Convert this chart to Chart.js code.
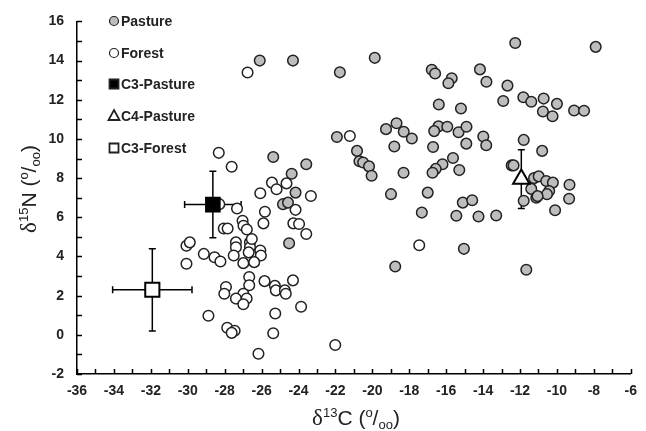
<!DOCTYPE html>
<html>
<head>
<meta charset="utf-8">
<script src="https://cdn.jsdelivr.net/npm/chart.js@4.4.1/dist/chart.umd.min.js"></script>
<style>
  html, body { margin: 0; padding: 0; background: #fff; }
  #wrap { width: 646px; height: 431px; }
</style>
</head>
<body>
<div id="wrap"><canvas id="isoChart" width="646" height="431"></canvas></div>
<script>
// values
const pastureX = [-26.1,-24.3,-21.76,-19.87,-12.26,-7.9,-16.78,-16.6,-15.7,-15.88,
  -14.17,-13.82,-12.68,-12.91,-11.82,-11.39,-10.72,-10.0,-10.76,-10.24,
  -9.07,-8.53,-16.4,-15.2,-19.26,-18.69,-18.3,-17.86,-18.81,-21.92,
  -20.83,-20.7,-20.5,-20.18,-20.04,-23.58,-16.71,-16.42,-16.65,-15.94,
  -15.33,-14.9,-14.91,-13.99,-13.83,-15.63,-16.2,-16.57,-16.74,-15.29,
  -18.31,-11.8,-10.8,-12.45,-12.35,-18.99,-17.0,-9.32,-11.24,-10.99,
  -10.58,-10.22,-11.39,-10.42,-10.54,-11.12,-11.05,-11.8,-9.34,-10.1,
  -13.29,-11.66,-17.32,-15.1,-14.59,-15.45,-14.25,-15.04,-18.76,-25.37,
  -24.37,-24.16,-24.84,-24.57,-24.51];
const pastureY = [14.0,14.0,13.4,14.14,14.9,14.7,13.53,13.34,13.1,12.84,
  13.55,12.92,12.72,11.94,12.13,11.9,12.06,11.79,11.4,11.16,
  11.45,11.44,11.76,11.55,10.5,10.8,10.37,10.02,9.61,10.1,
  9.39,8.86,8.8,8.6,8.12,8.71,9.59,10.64,10.4,10.62,
  10.34,10.62,9.76,10.12,9.68,9.03,8.71,8.47,8.27,8.41,
  8.27,9.95,9.39,8.65,8.65,7.18,7.26,7.66,8.0,8.09,
  7.85,7.77,7.45,7.34,7.18,7.0,7.08,6.84,6.95,6.36,
  6.09,3.32,6.24,6.75,6.87,6.08,6.04,4.39,3.49,9.08,
  8.22,7.26,6.67,6.75,4.67];

const forestX = [-26.76,-28.32,-27.62,-25.44,-25.19,-24.65,-26.07,-23.33,-24.16,-25.82,
  -25.9,-24.28,-23.97,-23.58,-27.33,-28.29,-27.03,-26.98,-26.8,-28.05,
  -27.84,-30.07,-29.89,-29.13,-28.55,-28.23,-30.07,-27.39,-27.39,-27.51,
  -26.99,-26.63,-26.63,-26.7,-26.53,-26.07,-26.04,-26.4,-26.67,-26.67,
  -27.93,-28.02,-26.99,-27.39,-26.81,-26.99,-25.84,-25.28,-25.23,-24.74,
  -24.69,-24.3,-23.86,-25.26,-28.88,-27.86,-27.46,-27.62,-25.37,-26.17,
  -21.22,-17.46,-22.01];
const forestY = [13.39,9.29,8.58,7.77,7.43,7.73,7.23,7.09,6.38,6.28,
  5.69,5.69,5.66,5.15,6.45,6.67,5.82,5.57,5.38,5.43,
  5.43,4.55,4.72,4.13,3.96,3.74,3.63,4.72,4.47,4.05,
  3.66,4.72,4.47,4.21,4.89,4.3,4.05,3.71,2.95,2.53,
  2.44,2.1,2.1,1.85,1.85,1.56,2.74,2.5,2.27,2.27,
  2.1,2.78,1.43,1.09,0.97,0.36,0.21,0.1,0.08,-0.97,
  10.15,4.57,-0.52];

// group means with standard deviations
const meanLabels = ["C3-Pasture", "C4-Pasture", "C3-Forest"];
const meanX = [-28.64, -11.93, -31.92];
const meanY = [6.65, 7.95, 2.3];
const sdX = [1.53, 0, 2.15];
const sdY = [1.7, 1.5, 2.1];

const xTicks = [-36, -6, 2];
const yTicks = [-2, 16, 2];

const toPoints = (xs, ys) => xs.map((x, i) => ({ x: x, y: ys[i] }));

// error bars behind the markers
const errorBars = {
  id: "errorBars",
  beforeDatasetsDraw(chart) {
    const { ctx, scales: { x, y } } = chart;
    ctx.save();
    ctx.strokeStyle = "#000";
    ctx.lineWidth = 1.5;
    const cap = 3.5;
    meanX.forEach((mx, i) => {
      const px = x.getPixelForValue(mx);
      const py = y.getPixelForValue(meanY[i]);
      if (sdY[i] > 0) {
        const t = y.getPixelForValue(meanY[i] + sdY[i]);
        const b = y.getPixelForValue(meanY[i] - sdY[i]);
        ctx.beginPath();
        ctx.moveTo(px, t); ctx.lineTo(px, b);
        ctx.moveTo(px - cap, t); ctx.lineTo(px + cap, t);
        ctx.moveTo(px - cap, b); ctx.lineTo(px + cap, b);
        ctx.stroke();
      }
      if (sdX[i] > 0) {
        const l = x.getPixelForValue(mx - sdX[i]);
        const r = x.getPixelForValue(mx + sdX[i]);
        ctx.beginPath();
        ctx.moveTo(l, py); ctx.lineTo(r, py);
        ctx.moveTo(l, py - cap); ctx.lineTo(l, py + cap);
        ctx.moveTo(r, py - cap); ctx.lineTo(r, py + cap);
        ctx.stroke();
      }
    });
    ctx.restore();
  }
};

// inward tick marks at every unit
const innerTicks = {
  id: "innerTicks",
  afterDraw(chart) {
    const { ctx, chartArea: a, scales: { x, y } } = chart;
    ctx.save();
    ctx.strokeStyle = "#000";
    ctx.lineWidth = 1.5;
    ctx.beginPath();
    for (let v = xTicks[0]; v <= xTicks[1]; v++) {
      const px = Math.round(x.getPixelForValue(v)) + 0.5;
      ctx.moveTo(px, a.bottom); ctx.lineTo(px, a.bottom - 5);
    }
    for (let v = yTicks[0]; v <= yTicks[1]; v++) {
      const py = Math.round(y.getPixelForValue(v)) + 0.5;
      ctx.moveTo(a.left, py); ctx.lineTo(a.left + 5, py);
    }
    ctx.stroke();
    ctx.restore();
  }
};

// axis titles with super/subscripts
function richText(ctx, parts) {
  let w = 0;
  parts.forEach(p => { ctx.font = p.f; w += ctx.measureText(p.t).width; });
  let cx = -w / 2;
  parts.forEach(p => {
    ctx.font = p.f;
    ctx.fillText(p.t, cx, p.dy);
    cx += ctx.measureText(p.t).width;
  });
}

const axisTitles = {
  id: "axisTitles",
  afterDraw(chart) {
    const { ctx } = chart;
    const big = '21px "Liberation Sans", Arial, sans-serif';
    const small = '13px "Liberation Sans", Arial, sans-serif';
    const greek = '23px "Liberation Serif", "Times New Roman", serif';
    ctx.save();
    ctx.fillStyle = "#222";
    ctx.textBaseline = "alphabetic";
    ctx.textAlign = "left";

    ctx.save();
    ctx.translate(356, 425);
    richText(ctx, [
      { t: "\u03b4", f: greek, dy: 0 },
      { t: "13", f: small, dy: -8 },
      { t: "C (", f: big, dy: 0 },
      { t: "o", f: small, dy: -8 },
      { t: "/", f: big, dy: 0 },
      { t: "oo", f: small, dy: 4 },
      { t: ")", f: big, dy: 0 }
    ]);
    ctx.restore();

    ctx.save();
    ctx.translate(36, 189);
    ctx.rotate(-Math.PI / 2);
    richText(ctx, [
      { t: "\u03b4", f: greek, dy: 0 },
      { t: "15", f: small, dy: -8 },
      { t: "N (", f: big, dy: 0 },
      { t: "o", f: small, dy: -8 },
      { t: "/", f: big, dy: 0 },
      { t: "oo", f: small, dy: 4 },
      { t: ")", f: big, dy: 0 }
    ]);
    ctx.restore();
    ctx.restore();
  }
};

// legend in the upper left corner
const legendItems = ["Pasture", "Forest"].concat(meanLabels);
const legendBox = {
  id: "legendBox",
  afterDraw(chart) {
    const { ctx } = chart;
    const rows = [21, 53, 84, 116, 148];
    ctx.save();
    ctx.font = 'bold 14px "Liberation Sans", Arial, sans-serif';
    ctx.textBaseline = "middle";
    ctx.strokeStyle = "#222";
    legendItems.forEach((name, i) => {
      const y = rows[i];
      const mx = 114;
      ctx.lineWidth = 1.2;
      ctx.beginPath();
      if (name === "Pasture" || name === "Forest") {
        ctx.arc(mx, y, 4.5, 0, Math.PI * 2);
        ctx.fillStyle = name === "Pasture" ? "#bdbdbd" : "#fff";
        ctx.fill();
        ctx.stroke();
      } else if (name === "C4-Pasture") {
        ctx.lineWidth = 1.8;
        ctx.moveTo(mx, y - 6); ctx.lineTo(mx + 5.5, y + 4); ctx.lineTo(mx - 5.5, y + 4); ctx.closePath();
        ctx.fillStyle = "#fff";
        ctx.fill();
        ctx.stroke();
      } else {
        ctx.lineWidth = 1.8;
        ctx.rect(mx - 4.5, y - 4.5, 9, 9);
        ctx.fillStyle = name === "C3-Pasture" ? "#000" : "#fff";
        ctx.fill();
        ctx.stroke();
      }
      ctx.fillStyle = "#222";
      ctx.fillText(name, 121, y + 1);
    });
    ctx.restore();
  }
};

const tickFont = { family: '"Liberation Sans", Arial, sans-serif', size: 14, weight: "bold" };

new Chart(document.getElementById("isoChart"), {
  type: "scatter",
  data: {
    datasets: [
      {
        label: meanLabels[0],
        data: [{ x: meanX[0], y: meanY[0] }],
        pointStyle: "rect", pointRadius: 10, pointHoverRadius: 10,
        backgroundColor: "#000", borderColor: "#000", borderWidth: 1.5
      },
      {
        label: meanLabels[1],
        data: [{ x: meanX[1], y: meanY[1] }],
        pointStyle: "triangle", pointRadius: 9.5, pointHoverRadius: 9.5,
        backgroundColor: "#fff", borderColor: "#000", borderWidth: 2
      },
      {
        label: meanLabels[2],
        data: [{ x: meanX[2], y: meanY[2] }],
        pointStyle: "rect", pointRadius: 10, pointHoverRadius: 10,
        backgroundColor: "#fff", borderColor: "#000", borderWidth: 2
      },
      {
        label: "Forest",
        data: toPoints(forestX, forestY),
        pointRadius: 5.3, pointHoverRadius: 5.3,
        backgroundColor: "#fff", borderColor: "#222", borderWidth: 1.5
      },
      {
        label: "Pasture",
        data: toPoints(pastureX, pastureY),
        pointRadius: 5.3, pointHoverRadius: 5.3,
        backgroundColor: "#bdbdbd", borderColor: "#222", borderWidth: 1.5
      }
    ]
  },
  options: {
    responsive: false,
    animation: false,
    events: [],
    layout: { padding: { top: 19, right: 13, left: 0, bottom: 0 } },
    plugins: { legend: { display: false }, tooltip: { enabled: false } },
    scales: {
      x: {
        type: "linear",
        min: xTicks[0], max: xTicks[1],
        afterFit: s => { s.height = 57; },
        grid: { display: false, drawTicks: false },
        border: { display: true, color: "#000", width: 1.5 },
        ticks: { stepSize: xTicks[2], padding: 9, color: "#222", font: tickFont, maxRotation: 0, callback: v => String(v) }
      },
      y: {
        type: "linear",
        min: yTicks[0], max: yTicks[1],
        afterFit: s => { s.width = 77; },
        grid: { display: false, drawTicks: false },
        border: { display: true, color: "#000", width: 1.5 },
        ticks: { stepSize: yTicks[2], padding: 13, color: "#222", font: tickFont, callback: v => String(v) }
      }
    }
  },
  plugins: [errorBars, innerTicks, axisTitles, legendBox]
});
</script>
</body>
</html>
